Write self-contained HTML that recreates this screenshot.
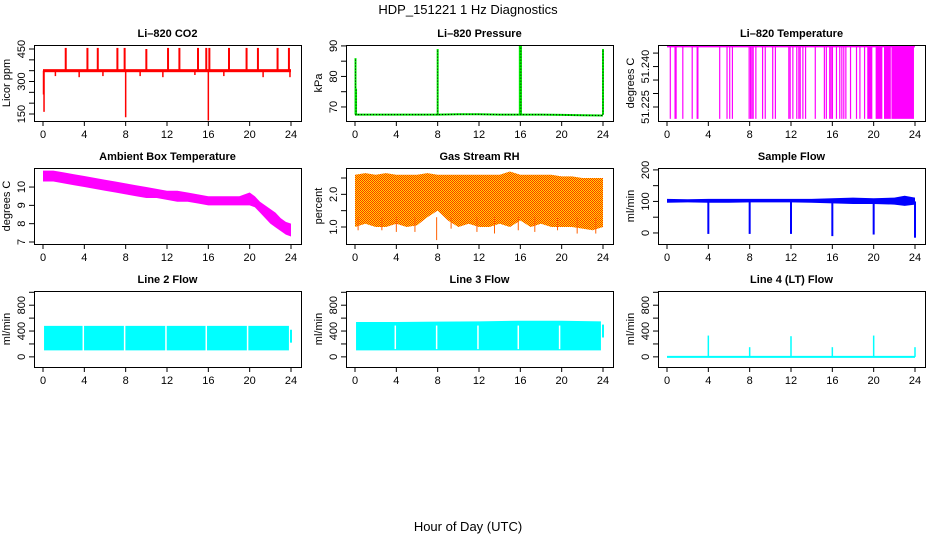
<!DOCTYPE html>
<html><head><meta charset="utf-8"><style>
html,body{margin:0;padding:0;background:#fff}
svg{display:block}
text{font-family:"Liberation Sans",sans-serif;fill:#000}
</style></head><body>
<svg id="chart" width="936" height="540" viewBox="0 0 936 540" xmlns="http://www.w3.org/2000/svg">
<defs>
<pattern id="rhpat" width="2" height="2" patternUnits="userSpaceOnUse">
<rect width="2" height="2" fill="#ffdd00"/>
<rect x="0" y="0" width="1" height="1" fill="#ff3000"/>
<rect x="1" y="1" width="1" height="1" fill="#ff3000"/>
</pattern>
</defs>
<text x="468" y="14" font-size="13" text-anchor="middle">HDP_151221  1 Hz Diagnostics</text>
<text x="468" y="531" font-size="13" text-anchor="middle">Hour of Day (UTC)</text>
</svg>
<script>
// ---- data ----
var xTicks = [0,4,8,12,16,20,24];
// CO2
var co2Base = 350;
var co2SpikeHours = [2.2,4.3,5.3,7.2,7.9,10.0,12.1,13.2,15.0,15.8,16.1,18.0,19.7,20.8,22.7,23.8];
var co2SpikeVals = [455,455,455,455,455,450,455,455,455,455,455,455,455,455,455,455];
var co2DipHours = [0.05,0.1,8.0,16.0,1.2,3.5,5.8,9.4,11.6,14.7,17.5,21.3,23.9];
var co2DipVals = [240,160,135,120,325,320,325,325,320,330,325,320,320];
var co2Ticks = [150,200,250,300,350,400,450];
var co2Labels = [150,300,450];
// Pressure
var presHours = [0,2,4,6,8,10,12,14,16,18,20,22,24];
var presVals = [67.5,67.5,67.5,67.5,67.5,67.6,67.6,67.5,67.5,67.5,67.4,67.3,67.2];
var presSpikeHours = [0.05,0.1,8.0,16.0,16.05,24.0];
var presSpikeVals = [86,76,89,90,90,89];
var presTicks = [70,75,80,85,90];
var presLabels = [70,80,90];
// Li-820 temperature
var tempTop = 51.2474, tempBottom = 51.2206;
var tempDropHours = [0.32,0.78,0.88,1.53,2.44,2.92,2.99,5.10,5.81,6.07,6.33,7.95,8.08,8.21,8.34,8.60,9.25,9.51,10.23,10.49,11.79,11.92,12.18,12.56,12.76,12.89,13.15,13.41,14.35,15.23,15.42,15.75,15.88,16.01,16.40,16.72,16.92,17.11,17.31,17.76,18.34,18.67,19.12];
var tempBandStart = [19.38,20.19,21.0,21.72];
var tempBandEnd = [19.87,20.84,21.66,23.9];
var tempTicks = [51.225,51.23,51.235,51.24,51.245];
var tempLabels = [51.225,51.240];
// Ambient box temperature
var ambHours = [0,1,2,3,4,5,6,7,8,9,10,11,12,13,14,15,16,17,18,19,19.5,20,20.5,21,21.5,22,22.5,23,23.5,24];
var ambHi = [10.9,10.9,10.8,10.7,10.6,10.5,10.4,10.3,10.2,10.1,10.0,9.9,9.8,9.8,9.7,9.6,9.5,9.5,9.5,9.5,9.6,9.7,9.5,9.2,9.0,8.8,8.6,8.3,8.1,8.0];
var ambLo = [10.3,10.3,10.2,10.1,10.0,9.9,9.8,9.7,9.6,9.5,9.4,9.4,9.3,9.2,9.2,9.1,9.0,9.0,9.0,9.0,9.0,9.0,8.9,8.6,8.3,8.0,7.8,7.6,7.4,7.3];
var ambTicks = [7,8,9,10];
// Gas stream RH
var rhHours = [0,1,2,3,4,5,6,7,8,9,10,11,12,13,14,15,16,17,18,19,20,21,22,23,24];
var rhHi = [2.6,2.65,2.6,2.65,2.6,2.6,2.6,2.65,2.6,2.6,2.6,2.6,2.6,2.6,2.6,2.7,2.6,2.6,2.6,2.6,2.55,2.55,2.5,2.5,2.5];
var rhLo = [1.0,1.1,1.0,1.0,1.1,1.0,1.05,1.3,1.5,1.2,1.0,1.1,1.0,1.0,1.1,1.0,1.2,1.0,1.1,1.0,1.0,1.0,0.95,0.9,1.0];
var rhDipHours = [0.3,2.6,4.0,5.8,7.9,9.3,11.8,13.5,15.8,17.4,19.6,21.5,23.3];
var rhDipVals = [0.9,0.9,0.85,0.85,0.6,0.95,0.85,0.8,0.9,0.85,0.9,0.8,0.8];
var rhTicks = [1.0,1.5,2.0,2.5];
var rhLabels = [1.0,2.0];
// Sample flow
var sfHours = [0,2,4,6,8,10,12,14,16,18,20,22,23,24];
var sfHi = [108,107,108,108,108,108,108,108,110,112,110,112,118,112];
var sfLo = [96,97,96,96,97,97,97,96,94,92,92,90,86,90];
var sfDipHours = [4.0,8.0,12.0,16.0,20.0,24.0];
var sfDipVals = [-3,-3,-3,-10,-5,-15];
var sfTicks = [0,50,100,150,200];
var sfLabels = [0,100,200];
// Line flows
var flowTicks = [0,200,400,600,800,1000];
var flowLabels = [0,400,800];
var l2Hours = [0.1,4,8,12,16,20,23.8];
var l2Hi = [480,480,480,480,480,480,480];
var l2Lo = [100,100,100,100,100,100,100];
var l2GapHours = [3.9,7.9,11.9,15.8,19.8];
var l3Hours = [0.1,4,8,12,16,20,23.8];
var l3Hi = [540,540,545,550,560,560,550];
var l3Lo = [100,100,100,100,100,100,100];
var l3GapHours = [3.9,7.9,11.9,15.8,19.8];
var l4SpikeHours = [4,8,12,16,20,24];
var l4SpikeVals = [330,150,320,150,330,150];

// ---- drawing ----
var svg = document.getElementById('chart');
var NS = 'http://www.w3.org/2000/svg';
function mk(tag, attrs, parent){
  var e = document.createElementNS(NS, tag);
  for (var k in attrs) e.setAttribute(k, attrs[k]);
  (parent||svg).appendChild(e);
  return e;
}
var boxTop = [45,168,291], boxBot = [121,244,367];
function makePanel(col,row,ymin,ymax,title,ylab,ticks,labels,fmt,name){
  var g = mk('g',{});
  
  
  var L = 34+312*col, R = 301+312*col, T = boxTop[row], B = boxBot[row];
  var x0 = L+9, x1 = R-10;
  var p = {g:g,L:L,R:R,T:T,B:B,
    x:function(h){return x0+(x1-x0)*h/24;},
    y:function(v){return B-(B-T)*(v-ymin)/(ymax-ymin);}};
  var t = mk('text',{x:(L+R)/2,y:T-8,'font-size':11,'font-weight':'bold','text-anchor':'middle'},g);
  t.textContent = title;
  
  
  xTicks.forEach(function(h){
    var xx = p.x(h);
    mk('line',{x1:xx,x2:xx,y1:B,y2:B+5,stroke:'#000'},g);
    var tl = mk('text',{x:xx,y:B+17,'font-size':11,'text-anchor':'middle'},g);
    tl.textContent = h;
    
    
  });
  mk('line',{x1:p.x(0),x2:p.x(24),y1:B+0.5,y2:B+0.5,stroke:'#000'},g);
  ticks.forEach(function(v){
    var yy = p.y(v);
    mk('line',{x1:L-5,x2:L,y1:yy,y2:yy,stroke:'#000'},g);
  });
  labels.forEach(function(v){
    var yy = p.y(v), xx = L-9;
    var tl = mk('text',{x:xx,y:yy,'font-size':11,'text-anchor':'middle',transform:'rotate(-90 '+xx+' '+yy+')'},g);
    tl.textContent = fmt(v);
    
    
  });
  var yl = mk('text',{x:L-24,y:(T+B)/2,'font-size':11,'text-anchor':'middle',transform:'rotate(-90 '+(L-24)+' '+((T+B)/2)+')'},g);
  yl.textContent = ylab;
  
  
  p.plot = mk('g',{},g);
  return p;
}
function finishBox(p){
  mk('rect',{x:p.L+0.5,y:p.T+0.5,width:p.R-p.L,height:p.B-p.T,fill:'none',stroke:'#000'},p.g);
}
function vline(p,h,v1,v2,color,w){
  var e = mk('line',{x1:p.x(h),x2:p.x(h),y1:p.y(v1),y2:p.y(v2),stroke:color,'stroke-width':w||1},p.plot);
  return e;
}
function band(p,hours,hi,lo,fill){
  var pts=[];
  for(var i=0;i<hours.length;i++) pts.push(p.x(hours[i])+','+p.y(hi[i]));
  for(var i=hours.length-1;i>=0;i--) pts.push(p.x(hours[i])+','+p.y(lo[i]));
  return mk('polygon',{points:pts.join(' '),fill:fill},p.plot);
}
function fmt0(v){return String(v);}
function fmt1(v){return v.toFixed(1);}
function fmt3(v){return v.toFixed(3);}

// 1 CO2
var p = makePanel(0,0,117.7,468.5,'Li\u2013820 CO2','Licor ppm',co2Ticks,co2Labels,fmt0,'co2');
co2DipHours.forEach(function(h,i){ vline(p,h,co2Base,co2DipVals[i],'#ff0000',1.5); });
co2SpikeHours.forEach(function(h,i){ vline(p,h,co2Base,co2SpikeVals[i],'#ff0000',2); });
var b = mk('rect',{x:p.x(0),y:p.y(co2Base+7),width:p.x(24)-p.x(0),height:p.y(co2Base-7)-p.y(co2Base+7),fill:'#ff0000'},p.plot);

finishBox(p);

// 2 Pressure
p = makePanel(1,0,65.4,90.3,'Li\u2013820 Pressure','kPa',presTicks,presLabels,fmt0,'pressure');
var pts = presHours.map(function(h,i){return p.x(h)+','+p.y(presVals[i]);}).join(' ');
var pl = mk('polyline',{points:pts,fill:'none',stroke:'#00dd00','stroke-width':2},p.plot);

mk('polyline',{points:pts,fill:'none',stroke:'#000','stroke-width':1,'stroke-dasharray':'1 2'},p.plot);
presSpikeHours.forEach(function(h,i){
  vline(p,h,presVals[0],presSpikeVals[i],'#00ee00',i==3?3:2);
  vline(p,h,presVals[0],presSpikeVals[i],'#000',1).setAttribute('stroke-dasharray','1 2');
});
finishBox(p);

// 3 Li-820 temperature
p = makePanel(2,0,51.2198,51.248,'Li\u2013820 Temperature','degrees C',tempTicks,tempLabels,fmt3,'li820-temp');
var tl = mk('line',{x1:p.x(0),x2:p.x(24),y1:p.y(tempTop),y2:p.y(tempTop),stroke:'#ff00ff','stroke-width':1.5},p.plot);

tempDropHours.forEach(function(h){ vline(p,h,tempTop,tempBottom,'#ff00ff',1.2); });
tempBandStart.forEach(function(h,i){
  var r = mk('rect',{x:p.x(h),y:p.y(tempTop),width:p.x(tempBandEnd[i])-p.x(h),height:p.y(tempBottom)-p.y(tempTop),fill:'#ff00ff'},p.plot);
  
});
finishBox(p);

// 4 Ambient box temp
p = makePanel(0,1,6.89,11.04,'Ambient Box Temperature','degrees C',ambTicks,ambTicks,fmt0,'ambient-temp');
band(p,ambHours,ambHi,ambLo,'#ff00ff');
finishBox(p);

// 5 RH
p = makePanel(1,1,0.48,2.806,'Gas Stream RH','percent',rhTicks,rhLabels,fmt1,'rh');
band(p,rhHours,rhHi,rhLo,'url(#rhpat)');
rhDipHours.forEach(function(h,i){ vline(p,h,1.3,rhDipVals[i],'#ff6000',1); });
finishBox(p);

// 6 Sample flow
p = makePanel(2,1,-35,206,'Sample Flow','ml/min',sfTicks,sfLabels,fmt0,'sample-flow');
band(p,sfHours,sfHi,sfLo,'#0000ff');
sfDipHours.forEach(function(h,i){ vline(p,h,100,sfDipVals[i],'#0000ff',2); });
finishBox(p);

// 7 Line 2
p = makePanel(0,2,-157,1020,'Line 2 Flow','ml/min',flowTicks,flowLabels,fmt0,'line2-flow');
band(p,l2Hours,l2Hi,l2Lo,'#00ffff');
l2GapHours.forEach(function(h){ vline(p,h,l2Hi[0]+10,l2Lo[0]-10,'#ffffff',1.5); });
vline(p,24,420,220,'#00ffff',2);
finishBox(p);

// 8 Line 3
p = makePanel(1,2,-157,1020,'Line 3 Flow','ml/min',flowTicks,flowLabels,fmt0,'line3-flow');
band(p,l3Hours,l3Hi,l3Lo,'#00ffff');
l3GapHours.forEach(function(h){ vline(p,h,l3Hi[2]-60,l3Lo[0]+20,'#ffffff',1.5); });
vline(p,24,500,300,'#00ffff',2);
finishBox(p);

// 9 Line 4
p = makePanel(2,2,-157,1020,'Line 4 (LT) Flow','ml/min',flowTicks,flowLabels,fmt0,'line4-flow');
var l4 = mk('line',{x1:p.x(0),x2:p.x(24),y1:p.y(0),y2:p.y(0),stroke:'#00ffff','stroke-width':2},p.plot);

l4SpikeHours.forEach(function(h,i){ vline(p,h,0,l4SpikeVals[i],'#00ffff',1.5); });
finishBox(p);
</script>
</body></html>
